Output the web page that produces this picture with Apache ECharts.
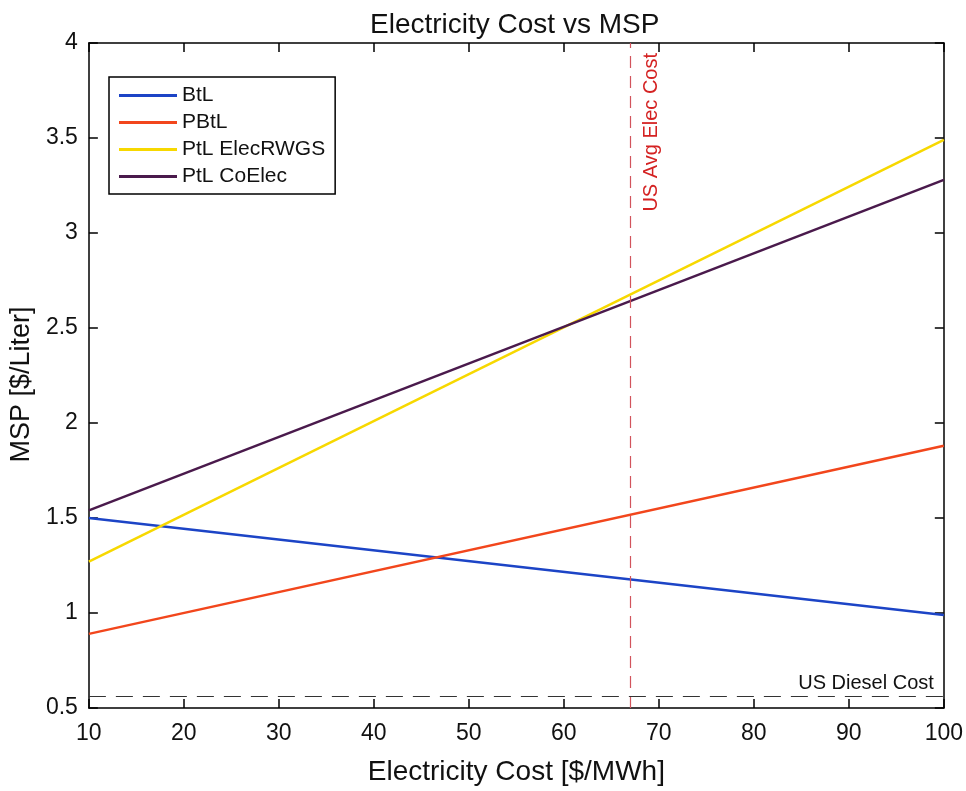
<!DOCTYPE html>
<html>
<head>
<meta charset="utf-8">
<script src="https://cdn.jsdelivr.net/npm/echarts@6/dist/echarts.min.js"></script>
<style>html,body{margin:0;padding:0;background:#fff;}#c{width:966px;height:791px;}</style>
</head>
<body>
<div id="c"></div>
<script>
const elecCost = [10, 100];
const btl = [1.50, 0.99];
const pbtl = [0.89, 1.88];
const ptlElecRWGS = [1.27, 3.49];
const ptlCoElec = [1.54, 3.28];
const usAvgElecCost = 67;
const usDieselCost = 0.56;
const seriesNames = ['BtL', 'PBtL', 'PtL ElecRWGS', 'PtL CoElec'];
const xTicks = [10, 20, 30, 40, 50, 60, 70, 80, 90, 100];
const yTicks = [0.5, 1, 1.5, 2, 2.5, 3, 3.5, 4];

const FONT = 'Liberation Sans, Arial, Helvetica, sans-serif';
const colors = ['#1c44c6', '#f2461c', '#f7d800', '#4a1a4c'];
const seriesVals = [btl, pbtl, ptlElecRWGS, ptlCoElec];

const chart = echarts.init(document.getElementById('c'), null, {renderer: 'canvas'});

const series = seriesNames.map((n, i) => ({
  name: n,
  type: 'line',
  data: elecCost.map((x, j) => [x, seriesVals[i][j]]),
  showSymbol: false,
  symbol: 'none',
  lineStyle: {color: colors[i], width: 2.5},
  itemStyle: {color: colors[i]},
  z: 3,
  animation: false
}));

series.push({
  name: 'refs',
  type: 'line',
  data: [],
  markLine: {
    silent: true,
    symbol: 'none',
    animation: false,
    data: [
      {
        xAxis: usAvgElecCost,
        lineStyle: {color: '#d2545c', width: 1.2, type: [12, 8]},
        label: {
          show: true, formatter: 'US Avg Elec Cost', position: 'insideEndBottom',
          color: '#d42222', fontSize: 20, fontFamily: FONT, distance: [10, 11]
        }
      },
      {
        yAxis: usDieselCost,
        lineStyle: {color: '#333', width: 1.2, type: [17, 10]},
        label: {
          show: true, formatter: 'US Diesel Cost', position: 'insideEndTop',
          color: '#111', fontSize: 20, fontFamily: FONT, distance: [10, 3]
        }
      }
    ]
  }
});

const axisCommon = {
  type: 'value',
  axisLine: {show: true, lineStyle: {color: '#000', width: 1.5}},
  axisTick: {show: true, inside: true, length: 9, lineStyle: {color: '#000', width: 1.5}},
  splitLine: {show: false}
};

chart.setOption({
  backgroundColor: '#fff',
  animation: false,
  title: {
    text: 'Electricity Cost vs MSP',
    left: 365,
    top: 6,
    textStyle: {fontFamily: FONT, fontSize: 28, fontWeight: 'normal', color: '#111'}
  },
  legend: {
    data: seriesNames,
    orient: 'vertical',
    left: 109,
    top: 77,
    icon: 'rect',
    itemWidth: 58,
    itemHeight: 3,
    itemGap: 6,
    itemTextGap: 6,
    padding: [8, 10, 7, 10],
    borderColor: '#000',
    borderWidth: 1.5,
    backgroundColor: '#fff',
    textStyle: {fontFamily: FONT, fontSize: 21, color: '#111', lineHeight: 20.5}
  },
  grid: {left: 88, right: 22, top: 43, bottom: 73, containLabel: false},
  xAxis: [
    Object.assign({}, axisCommon, {
      min: 10, max: 100, interval: 10, position: 'bottom',
      name: 'Electricity Cost [$/MWh]', nameLocation: 'middle', nameGap: 50,
      nameTextStyle: {fontFamily: FONT, fontSize: 28, color: '#111'},
      axisLabel: {fontFamily: FONT, fontSize: 23, color: '#111', margin: 14,
        formatter: v => xTicks.includes(v) ? String(v) : ''}
    }),
    Object.assign({}, axisCommon, {
      min: 10, max: 100, interval: 10, position: 'top', axisLabel: {show: false}
    })
  ],
  yAxis: [
    Object.assign({}, axisCommon, {
      min: 0.5, max: 4, interval: 0.5, position: 'left',
      name: 'MSP [$/Liter]', nameLocation: 'middle', nameGap: 52, nameRotate: 90,
      nameTextStyle: {fontFamily: FONT, fontSize: 27, color: '#111', padding: [0, 18, 0, 0]},
      axisLabel: {fontFamily: FONT, fontSize: 23, color: '#111', margin: 11,
        formatter: v => yTicks.includes(v) ? String(v) : ''}
    }),
    Object.assign({}, axisCommon, {
      min: 0.5, max: 4, interval: 0.5, position: 'right', axisLabel: {show: false}
    })
  ],
  series: series
});
</script>
</body>
</html>
